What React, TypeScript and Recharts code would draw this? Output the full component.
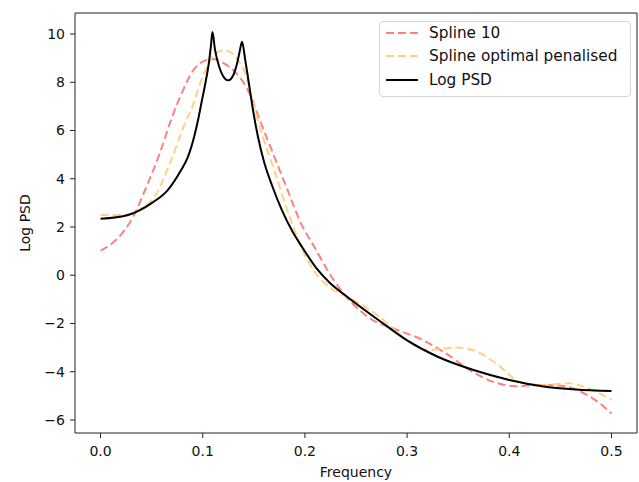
import { LineChart, Line, XAxis, YAxis, ReferenceLine, Legend, Label } from "recharts";

// frequencies / values
const psdFreq = [0, 0.027, 0.05, 0.066, 0.079, 0.085, 0.089, 0.095, 0.099, 0.103, 0.106, 0.108, 0.1095, 0.112, 0.116, 0.12, 0.125, 0.13, 0.134, 0.1365, 0.1385, 0.1415, 0.145, 0.149, 0.154, 0.16, 0.168, 0.178, 0.188, 0.198, 0.212, 0.224, 0.24, 0.275, 0.3, 0.33, 0.365, 0.4, 0.432, 0.465, 0.5];
const psdValues = [2.34, 2.5, 2.99, 3.54, 4.37, 4.85, 5.34, 6.35, 7.2, 8.05, 8.8, 9.5, 10.08, 9.35, 8.65, 8.25, 8.08, 8.3, 8.85, 9.35, 9.68, 8.95, 8.0, 6.9, 5.75, 4.7, 3.7, 2.65, 1.8, 1.12, 0.25, -0.3, -0.85, -1.95, -2.7, -3.38, -3.93, -4.34, -4.6, -4.74, -4.8];

const spline10Freq = [0, 0.015, 0.032, 0.045, 0.058, 0.069, 0.08, 0.09, 0.1, 0.11, 0.12, 0.131, 0.144, 0.157, 0.17, 0.183, 0.196, 0.209, 0.222, 0.235, 0.245, 0.266, 0.286, 0.315, 0.338, 0.364, 0.387, 0.406, 0.432, 0.455, 0.471, 0.485, 0.5];
const spline10Values = [1.02, 1.46, 2.43, 3.68, 5.06, 6.44, 7.6, 8.45, 8.85, 8.96, 8.8, 8.45, 7.69, 6.31, 4.92, 3.54, 2.16, 1.19, 0.22, -0.61, -1.1, -1.85, -2.2, -2.68, -3.24, -4.0, -4.46, -4.6, -4.55, -4.6, -4.85, -5.2, -5.73];

const penalisedFreq = [0, 0.022, 0.038, 0.054, 0.068, 0.084, 0.09, 0.1, 0.113, 0.121, 0.133, 0.143, 0.15, 0.158, 0.17, 0.184, 0.197, 0.212, 0.226, 0.247, 0.273, 0.299, 0.322, 0.348, 0.364, 0.387, 0.41, 0.432, 0.458, 0.481, 0.5];
const penalisedValues = [2.5, 2.5, 2.71, 3.33, 4.65, 6.44, 7.0, 8.24, 9.21, 9.33, 9.0, 8.2, 7.0, 5.85, 4.35, 2.55, 1.1, 0.0, -0.55, -1.02, -1.72, -2.68, -3.1, -3.0, -3.1, -3.65, -4.41, -4.55, -4.48, -4.76, -5.17];

const xTicks = [0, 0.1, 0.2, 0.3, 0.4, 0.5];
const yTicks = [-6, -4, -2, 0, 2, 4, 6, 8, 10];

const X_DOMAIN: [number, number] = [-0.025, 0.525];
const Y_DOMAIN: [number, number] = [-6.54, 10.87];

const zip = (fs: number[], vs: number[]) => fs.map((f, i) => ({ f, v: vs[i] }));

const psdData = zip(psdFreq, psdValues);
const spline10Data = zip(spline10Freq, spline10Values);
const penalisedData = zip(penalisedFreq, penalisedValues);

const RED = "#ff8080";
const ORANGE = "#ffd280";
const INK = "#111";
const FONT = "'DejaVu Sans', sans-serif";

const fmtY = (v: number) => (v < 0 ? "\u2212" + Math.abs(v) : String(v));

const legendItems = [
    { name: "Spline 10", color: RED, dash: "8 4" },
    { name: "Spline optimal penalised", color: ORANGE, dash: "8 4" },
    { name: "Log PSD", color: "#000", dash: undefined },
];

function PlotLegend() {
    return (
        <div
            style={{
                border: "1px solid #d5d5d5",
                borderRadius: 4,
                background: "rgba(255,255,255,0.8)",
                width: 252,
                height: 76,
                boxSizing: "border-box",
                padding: "0 0 0 5px",
                fontFamily: FONT,
                fontSize: 15.3,
                color: INK,
            }}
        >
            {legendItems.map((it, i) => (
                <div key={it.name} style={{ display: "flex", alignItems: "center", height: i === 0 ? 22 : 24 }}>
                    <svg width={34} height={10} style={{ marginRight: 10, flexShrink: 0 }}>
                        <line x1={1} y1={5} x2={33} y2={5} stroke={it.color} strokeWidth={2} strokeDasharray={it.dash} />
                    </svg>
                    <span style={{ whiteSpace: "nowrap" }}>{it.name}</span>
                </div>
            ))}
        </div>
    );
}

export default function App() {
    return (
        <div style={{ position: "absolute", left: 0, top: 0, width: 639, height: 482, background: "#fff", fontFamily: FONT }}>
            <LineChart width={639} height={482} margin={{ top: 13, right: 2, bottom: 0, left: 0 }}>
                <XAxis
                    type="number"
                    dataKey="f"
                    domain={X_DOMAIN}
                    ticks={xTicks}
                    allowDataOverflow
                    height={49}
                    tickSize={5}
                    tickMargin={8}
                    tickFormatter={(v: number) => v.toFixed(1)}
                    stroke="#222"
                    tick={{ fill: INK, fontSize: 14, fontFamily: FONT }}
                >
                    <Label value="Frequency" position="insideBottom" offset={5} fill={INK} fontSize={14} fontFamily={FONT} />
                </XAxis>
                <YAxis
                    type="number"
                    domain={Y_DOMAIN}
                    ticks={yTicks}
                    allowDataOverflow
                    width={75}
                    tickSize={5}
                    tickMargin={5}
                    tickFormatter={fmtY}
                    stroke="#222"
                    tick={{ fill: INK, fontSize: 14, fontFamily: FONT }}
                >
                    <Label
                        content={({ viewBox }: any) => {
                            const cy = viewBox.y + viewBox.height / 2;
                            return (
                                <text x={30} y={cy} transform={`rotate(-90, 30, ${cy})`} textAnchor="middle" fill={INK} fontSize={14} fontFamily={FONT}>
                                    Log PSD
                                </text>
                            );
                        }}
                    />
                </YAxis>
                <ReferenceLine y={Y_DOMAIN[1]} stroke="#222" />
                <ReferenceLine x={X_DOMAIN[1]} stroke="#222" />
                <Line data={spline10Data} dataKey="v" name="Spline 10" type="monotone" stroke={RED} strokeWidth={2} strokeDasharray="8 4" dot={false} isAnimationActive={false} />
                <Line data={penalisedData} dataKey="v" name="Spline optimal penalised" type="monotone" stroke={ORANGE} strokeWidth={2} strokeDasharray="8 4" dot={false} isAnimationActive={false} />
                <Line data={psdData} dataKey="v" name="Log PSD" type="monotone" stroke="#000" strokeWidth={2} dot={false} isAnimationActive={false} />
                <Legend
                    layout="horizontal"
                    align="center"
                    verticalAlign="middle"
                    wrapperStyle={{ left: 379, top: 21, width: 252 }}
                    content={() => <PlotLegend />}
                />
            </LineChart>
        </div>
    );
}
